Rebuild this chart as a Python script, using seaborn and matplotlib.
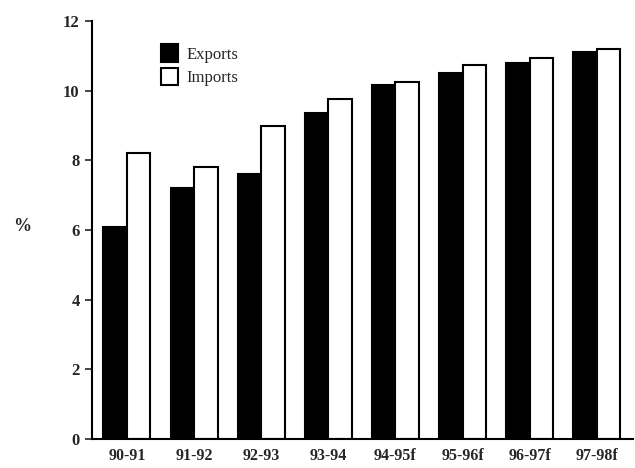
import matplotlib
matplotlib.use('Agg')
import matplotlib.pyplot as plt
import seaborn as sns
import pandas as pd

years = ['90-91', '91-92', '92-93', '93-94', '94-95f', '95-96f', '96-97f', '97-98f']
exports = [6.1, 7.2, 7.6, 9.35, 10.15, 10.5, 10.8, 11.1]
imports = [8.2, 7.8, 9.0, 9.75, 10.25, 10.75, 10.95, 11.2]

df = pd.DataFrame({
    'year': years * 2,
    'value': exports + imports,
    'series': ['Exports'] * len(years) + ['Imports'] * len(years),
})

sns.set_style('white')
plt.rcParams['font.family'] = ['Liberation Serif', 'DejaVu Serif']

fig = plt.figure(figsize=(6.35, 4.68), dpi=100)
ax = fig.add_axes([0.145, 0.062, 0.852, 0.893])

sns.barplot(data=df, x='year', y='value', hue='series',
            palette=['black', 'white'], width=0.7, saturation=1,
            edgecolor='black', linewidth=1.5, ax=ax)

ax.set_ylim(0, 12)
ax.set_xlim(-0.52, 7.54)
ax.set_yticks([0, 2, 4, 6, 8, 10, 12])
ax.set_yticklabels(['0', '2', '4', '6', '8', '10', '12'], fontsize=12, fontweight='bold')
ax.tick_params(axis='y', left=True, length=5, width=1.2, pad=4)
ax.tick_params(axis='x', bottom=False, labelsize=11.5, pad=3)
for lab in ax.get_xticklabels():
    lab.set_fontweight('bold')
ax.set_xlabel('')
ax.set_ylabel('')
fig.text(22 / 635, 1 - 226 / 468, '%', fontsize=13, fontweight='bold',
         ha='center', va='center')

for s in ['top', 'right']:
    ax.spines[s].set_visible(False)
ax.spines['left'].set_linewidth(1.5)
ax.spines['bottom'].set_linewidth(1.5)
ax.spines['left'].set_color('black')
ax.spines['bottom'].set_color('black')

leg = ax.legend(loc='upper left', bbox_to_anchor=(0.1, 0.98), frameon=False,
                fontsize=12, handlelength=1.0, handleheight=1.2,
                handletextpad=0.5, labelspacing=0.3)

fig.savefig('out.png', dpi=100)
